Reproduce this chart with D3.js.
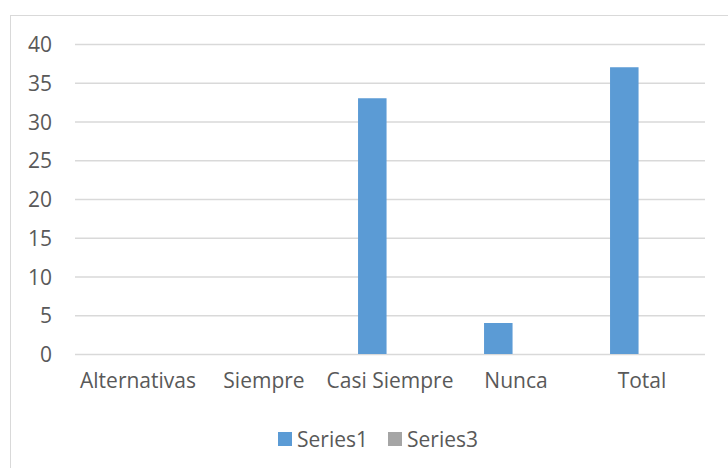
<!DOCTYPE html>
<html>
<head>
<meta charset="utf-8">
<style>
  body { margin: 0; background: #fff; }
  text { font-family: "Open Sans", sans-serif; fill: #595959; }
</style>
</head>
<body>
<svg></svg>
<script src="https://d3js.org/d3.v7.min.js"></script>
<script>
// chart data
var categories = ["Alternativas", "Siempre", "Casi Siempre", "Nunca", "Total"];
var seriesNames = ["Series1", "Series3"];
var series1 = [0, 0, 33, 4, 37];
var series3 = [0, 0, 0, 0, 0];
var yTicks = [0, 5, 10, 15, 20, 25, 30, 35, 40];
var colors = ["#5b9bd5", "#a5a5a5"];

var svg = d3.select("svg")
    .attr("width", 728)
    .attr("height", 468);

// chart frame
svg.append("rect")
    .attr("x", 10.5).attr("y", 15.5)
    .attr("width", 730).attr("height", 470)
    .attr("fill", "#fff")
    .attr("stroke", "#d9d9d9");

var y = d3.scaleLinear().domain([0, 40]).range([354, 44]);
var x0 = d3.scaleBand().domain(categories).range([75, 705]);
var x1 = d3.scaleBand().domain(seriesNames)
    .range([0, x0.bandwidth()])
    .paddingInner(0).paddingOuter(1.21).align(0.45);

// gridlines + y labels
var yAxis = svg.append("g")
    .attr("transform", "translate(75,0)")
    .call(d3.axisLeft(y).tickValues(yTicks).tickSize(-630).tickPadding(23));
yAxis.select(".domain").remove();
yAxis.selectAll("line").attr("stroke", "#d9d9d9").attr("stroke-width", 1.3);
yAxis.selectAll("text")
    .style("font-size", "21px")
    .attr("fill", "#595959")
    .attr("dy", "0.36em");

// x labels
var xAxis = svg.append("g")
    .attr("transform", "translate(0,354)")
    .call(d3.axisBottom(x0).tickSize(0).tickPadding(19));
xAxis.select(".domain").remove();
xAxis.selectAll("text")
    .style("font-size", "21px")
    .attr("fill", "#595959")
    .attr("dy", "0.71em");

// bars
var rows = categories.map(function(c, i) {
    return { cat: c, vals: [series1[i], series3[i]] };
});
svg.append("g").selectAll("g")
    .data(rows)
    .enter().append("g")
    .attr("transform", function(d) { return "translate(" + x0(d.cat) + ",0)"; })
    .selectAll("rect")
    .data(function(d) { return d.vals.map(function(v, k) { return { s: seriesNames[k], v: v, k: k }; }); })
    .enter().append("rect")
    .attr("x", function(d) { return x1(d.s); })
    .attr("width", x1.bandwidth())
    .attr("y", function(d) { return y(d.v); })
    .attr("height", function(d) { return y(0) - y(d.v); })
    .attr("fill", function(d) { return colors[d.k]; });

// legend
var legendX = [278, 388];
var legend = svg.append("g").selectAll("g")
    .data(seriesNames)
    .enter().append("g")
    .attr("transform", function(d, i) { return "translate(" + legendX[i] + ",432)"; });
legend.append("rect")
    .attr("width", 14).attr("height", 14)
    .attr("fill", function(d, i) { return colors[i]; });
legend.append("text")
    .attr("x", 19).attr("y", 15)
    .style("font-size", "21px")
    .text(function(d) { return d; });
</script>
</body>
</html>
